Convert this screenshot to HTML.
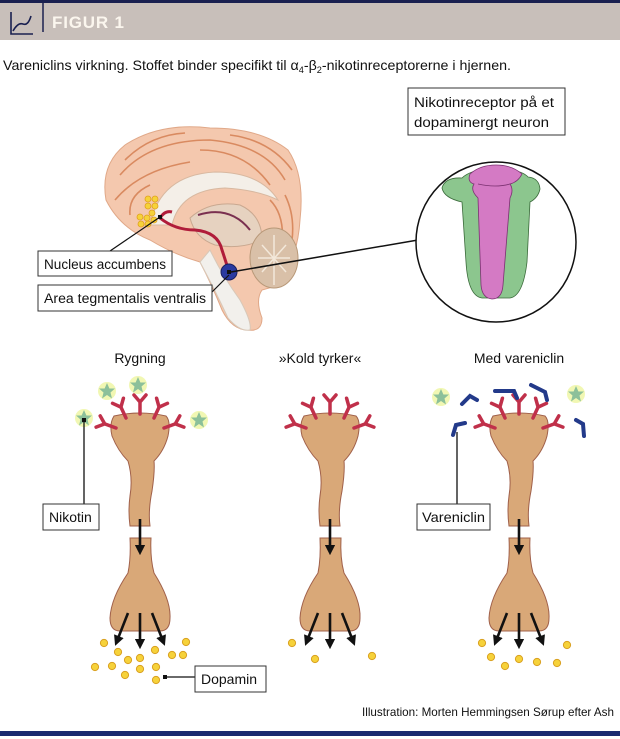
<!DOCTYPE html>
<html><head><meta charset="utf-8"><style>
html,body{margin:0;padding:0;background:#fff;width:620px;height:739px;overflow:hidden}
svg{display:block}
text{font-family:"Liberation Sans",sans-serif}
</style></head><body>
<svg width="620" height="739" viewBox="0 0 620 739" xmlns="http://www.w3.org/2000/svg">
<defs>
<g id="up"><path d="M-26,0 Q-31,8 -28,20 Q-22,35 -12,45 Q-7,62 -10,80 Q-12,95 -10,110 L10,110 Q8,95 12,75 Q15,55 14,45 Q24,35 28,20 Q31,5 26,0 Q0,-6 -26,0 Z" fill="#d9a878" stroke="#a0604a" stroke-width="1"/></g>
<g id="lo"><path d="M-10,0 L11,0 Q10,20 14,35 Q31,62 30,80 Q30,93 20,93 L-20,93 Q-30,93 -30,80 Q-29,60 -12,35 Q-9,20 -10,0 Z" fill="#d9a878" stroke="#a0604a" stroke-width="1"/></g>
<g id="y" stroke="#c0304a" stroke-width="3.5" stroke-linecap="round" fill="none"><path d="M0,0 L0,-12 M0,-12 L-6,-19 M0,-12 L6,-19"/></g>
<g id="st"><circle r="9" fill="#eef5a0" opacity="0.8"/><polygon points="0,-8 2.4,-2.5 8,-2.5 3.5,1.5 5,7.5 0,4 -5,7.5 -3.5,1.5 -8,-2.5 -2.4,-2.5" fill="#8cc09a"/></g>
<g id="dot"><circle r="3.6" fill="#f6d23a" stroke="#d9a020" stroke-width="1"/></g>
<marker id="ah" viewBox="0 0 10 10" refX="5" refY="5" markerWidth="4" markerHeight="4" orient="auto"><path d="M0,0 L10,5 L0,10 Z" fill="#111"/></marker>
<g id="recs">
<use href="#y" transform="translate(0,-2)"/>
<use href="#y" transform="translate(-14,2) rotate(-25)"/>
<use href="#y" transform="translate(14,2) rotate(25)"/>
<use href="#y" transform="translate(-24,12) rotate(-70)"/>
<use href="#y" transform="translate(24,12) rotate(70)"/>
</g>
<g id="arrs" stroke="#111" stroke-width="2.6" marker-end="url(#ah)">
<line x1="0" y1="519" x2="0" y2="550"/>
<line x1="-12" y1="613" x2="-23" y2="641"/>
<line x1="0" y1="613" x2="0" y2="644"/>
<line x1="12" y1="613" x2="23" y2="641"/>
</g>
</defs>
<!-- header -->
<rect x="0" y="0" width="620" height="3" fill="#1a2050"/>
<rect x="0" y="3" width="620" height="37" fill="#c8bfba"/>
<path d="M11,12 L11,34 L33,34 M13,31 Q18,22 23,24 Q28,26 31,16" stroke="#1a2050" stroke-width="1.6" fill="none"/>
<line x1="43" y1="3" x2="43" y2="32" stroke="#1a2050" stroke-width="1.5"/>
<text x="52" y="28" font-size="17" font-weight="bold" fill="#fbf6ee" textLength="72">FIGUR 1</text>
<text x="3" y="70" font-size="14" fill="#111" textLength="508" lengthAdjust="spacingAndGlyphs">Vareniclins virkning. Stoffet binder specifikt til α<tspan font-size="9" dy="3">4</tspan><tspan dy="-3">-β</tspan><tspan font-size="9" dy="3">2</tspan><tspan dy="-3">-nikotinreceptorerne i hjernen.</tspan></text>
<!-- brain -->
<path d="M106,200 Q100,165 125,145 Q160,122 210,128 Q260,128 288,150 Q305,175 300,220 Q298,255 280,285 L262,290 Q255,300 262,318 Q262,332 248,330 Q232,330 222,310 Q212,285 200,262 Q175,255 150,240 Q120,228 106,200 Z" fill="#f4c8ae" stroke="#e0a888" stroke-width="1"/>
<path d="M120,175 Q150,140 210,140 Q265,145 285,180 M115,200 Q140,170 190,162 M200,150 Q245,150 270,185 M125,160 Q150,135 185,133 M230,135 Q270,140 292,170 M285,195 Q295,215 292,240 M270,200 Q285,215 282,245 M130,215 Q128,195 150,185" stroke="#d98a60" stroke-width="1.6" fill="none"/>
<path d="M150,225 Q160,175 215,172 Q260,172 278,200 Q258,190 225,188 Q180,190 172,225 Z" fill="#f4efe8" stroke="#d8b8a0"/>
<path d="M190,218 Q210,200 240,205 Q262,215 262,240 Q240,250 215,245 Q195,238 190,218 Z" fill="#e6d2c0" stroke="#c9a890"/>
<path d="M198,215 Q230,205 250,230" stroke="#7a3050" stroke-width="2" fill="none"/>
<path d="M210,250 Q222,275 240,300 Q252,322 250,330 Q240,332 228,318 Q215,290 200,262 Z" fill="#f2f0ec" stroke="#d8c8b8"/>
<ellipse cx="274" cy="258" rx="24" ry="30" fill="#d9c0a8" stroke="#b89878"/>
<path d="M258,258 L290,258 M274,235 L274,285 M262,245 L286,272 M262,272 L286,245" stroke="#f3e8da" stroke-width="1.5"/>
<path d="M160,218 Q175,230 195,230 Q218,232 222,250 Q226,262 229,272" stroke="#b01c3a" stroke-width="3" fill="none"/>
<path d="M160,218 Q165,210 172,212" stroke="#b01c3a" stroke-width="3" fill="none"/>
<g fill="#f6d23a" stroke="#e0a020" stroke-width="0.8">
<circle cx="148" cy="199" r="3"/><circle cx="155" cy="199" r="3"/><circle cx="148" cy="206" r="3"/><circle cx="155" cy="206" r="3"/><circle cx="152" cy="213" r="3"/>
<circle cx="140" cy="217" r="3"/><circle cx="147" cy="218" r="3"/><circle cx="141" cy="224" r="3"/><circle cx="148" cy="224" r="3"/><circle cx="154" cy="220" r="3"/>
</g>
<rect x="158" y="215" width="4" height="4" fill="#111"/>
<circle cx="229" cy="272" r="8" fill="#2a3aa0" stroke="#1a2060"/>
<rect x="227" y="270" width="4" height="4" fill="#111"/>
<line x1="160" y1="217" x2="110" y2="251" stroke="#111" stroke-width="1.2"/>
<line x1="229" y1="275" x2="212" y2="292" stroke="#111" stroke-width="1.2"/>
<line x1="231" y1="272" x2="418" y2="240" stroke="#111" stroke-width="1.5"/>
<!-- labels -->
<g fill="#fff" stroke="#333" stroke-width="1">
<rect x="38" y="251" width="134" height="25"/>
<rect x="38" y="285" width="174" height="26"/>
<rect x="408" y="88" width="157" height="47"/>
</g>
<g font-size="13.5" fill="#111">
<text x="44" y="269" textLength="122" lengthAdjust="spacingAndGlyphs">Nucleus accumbens</text>
<text x="44" y="303" textLength="162" lengthAdjust="spacingAndGlyphs">Area tegmentalis ventralis</text>
<text x="414" y="107" textLength="140" lengthAdjust="spacingAndGlyphs">Nikotinreceptor på et</text>
<text x="414" y="127" textLength="135" lengthAdjust="spacingAndGlyphs">dopaminergt neuron</text>
</g>
<!-- receptor circle -->
<circle cx="496" cy="242" r="80" fill="#fff" stroke="#111" stroke-width="1.5"/>
<path d="M462,178 Q470,170 490,169 Q520,168 528,177 Q539,178 540,189 Q538,198 530,202 L527,262 Q523,296 510,298 L482,298 Q468,296 466,262 L462,202 Q444,198 442,188 Q445,177 462,178 Z" fill="#8cc68e" stroke="#3a6a3a" stroke-width="0.8"/>
<path d="M470,174 Q480,165 496,165 Q512,165 522,174 Q518,182 510,184 Q514,190 510,198 L503,285 Q502,299 492,299 Q482,298 481,285 L478,198 Q470,190 474,184 Q467,182 470,174 Z" fill="#d47ac4" stroke="#7a3070" stroke-width="0.8"/>
<path d="M478,184 Q496,188 510,184" stroke="#7a3070" stroke-width="0.8" fill="none"/>
<!-- columns -->
<g font-size="14" fill="#111" text-anchor="middle">
<text x="140" y="363">Rygning</text>
<text x="320" y="363">»Kold tyrker«</text>
<text x="519" y="363">Med vareniclin</text>
</g>
<g transform="translate(140,0)"><use href="#up" transform="translate(0,416)"/><use href="#lo" transform="translate(0,538)"/><use href="#recs" transform="translate(0,416)"/><use href="#arrs"/></g>
<g transform="translate(330,0)"><use href="#up" transform="translate(0,416)"/><use href="#lo" transform="translate(0,538)"/><use href="#recs" transform="translate(0,416)"/><use href="#arrs"/></g>
<g transform="translate(519,0)"><use href="#up" transform="translate(0,416)"/><use href="#lo" transform="translate(0,538)"/><use href="#recs" transform="translate(0,416)"/><use href="#arrs"/></g>
<!-- stars -->
<use href="#st" transform="translate(84,418)"/><use href="#st" transform="translate(107,391)"/><use href="#st" transform="translate(138,385)"/><use href="#st" transform="translate(199,420)"/>
<use href="#st" transform="translate(441,397)"/><use href="#st" transform="translate(576,394)"/>
<!-- vareniclin -->
<g stroke="#233a8a" stroke-width="4" fill="none" stroke-linecap="round">
<path d="M462,404 L470,396 L477,400"/><path d="M495,391 L514,391 L517,398"/><path d="M531,385 L545,392 L547,400"/><path d="M453,435 L456,425 L465,423"/><path d="M576,420 L583,424 L584,436"/>
</g>
<!-- dopamine -->
<g>
<use href="#dot" transform="translate(104,643)"/><use href="#dot" transform="translate(118,652)"/><use href="#dot" transform="translate(128,660)"/><use href="#dot" transform="translate(140,658)"/><use href="#dot" transform="translate(155,650)"/><use href="#dot" transform="translate(172,655)"/><use href="#dot" transform="translate(186,642)"/><use href="#dot" transform="translate(183,655)"/>
<use href="#dot" transform="translate(95,667)"/><use href="#dot" transform="translate(112,666)"/><use href="#dot" transform="translate(125,675)"/><use href="#dot" transform="translate(140,669)"/><use href="#dot" transform="translate(156,667)"/><use href="#dot" transform="translate(156,680)"/>
<use href="#dot" transform="translate(292,643)"/><use href="#dot" transform="translate(315,659)"/><use href="#dot" transform="translate(372,656)"/>
<use href="#dot" transform="translate(482,643)"/><use href="#dot" transform="translate(491,657)"/><use href="#dot" transform="translate(505,666)"/><use href="#dot" transform="translate(519,659)"/><use href="#dot" transform="translate(537,662)"/><use href="#dot" transform="translate(557,663)"/><use href="#dot" transform="translate(567,645)"/>
</g>
<!-- callouts -->
<rect x="82" y="418" width="4" height="4" fill="#111"/>
<line x1="84" y1="420" x2="84" y2="504" stroke="#111" stroke-width="1.3"/>
<rect x="163" y="675" width="4" height="4" fill="#111"/>
<line x1="165" y1="677" x2="195" y2="677" stroke="#111" stroke-width="1.3"/>
<line x1="457" y1="432" x2="457" y2="504" stroke="#111" stroke-width="1.3"/>
<g fill="#fff" stroke="#333" stroke-width="1">
<rect x="43" y="504" width="56" height="26"/>
<rect x="195" y="666" width="71" height="26"/>
<rect x="417" y="504" width="73" height="26"/>
</g>
<g font-size="14" fill="#111">
<text x="49" y="522">Nikotin</text>
<text x="201" y="684">Dopamin</text>
<text x="422" y="522" textLength="63" lengthAdjust="spacingAndGlyphs">Vareniclin</text>
</g>
<text x="614" y="716" font-size="12" fill="#111" text-anchor="end" textLength="252" lengthAdjust="spacingAndGlyphs">Illustration: Morten Hemmingsen Sørup efter Ash</text>
<rect x="0" y="731" width="620" height="5" fill="#1a2a70"/>
</svg>
</body></html>
